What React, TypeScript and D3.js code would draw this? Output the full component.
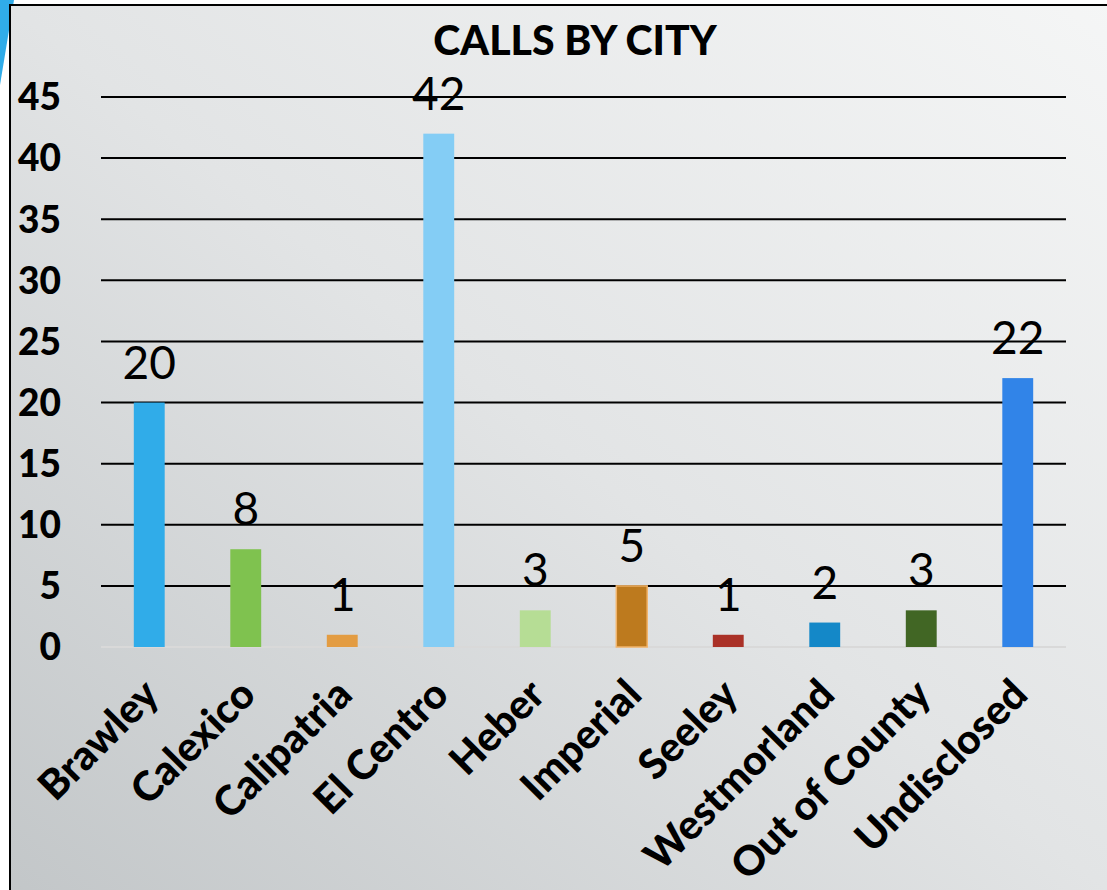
import React from 'react';
import * as d3 from 'd3';

const cities = ['Brawley', 'Calexico', 'Calipatria', 'El Centro', 'Heber', 'Imperial', 'Seeley', 'Westmorland', 'Out of County', 'Undisclosed'];
const calls = [20, 8, 1, 42, 3, 5, 1, 2, 3, 22];
const barColors = ['#30ace9', '#7fc24f', '#e39c42', '#84cdf5', '#b6dd95', '#bd7a1e', '#aa3127', '#1488c8', '#416624', '#3184e8'];
const yTicks = [0, 5, 10, 15, 20, 25, 30, 35, 40, 45];

const W = 1107, H = 890;
const font = 'Lato, "Open Sans", sans-serif';

export default function App() {
    // plot area
    const left = 101, right = 1066, top = 97, bottom = 647;

    const x = d3.scaleBand<string>().domain(cities).range([left, right]).paddingInner(0.68).paddingOuter(0.34);
    const y = d3.scaleLinear().domain([0, 45]).range([bottom, top]);

    return (
        <svg width={W} height={H} style={{ position: 'absolute', left: 0, top: 0 }}>
            <defs>
                <linearGradient id="bg" x1="1" y1="0" x2="0" y2="1">
                    <stop offset="0" stopColor="#f5f6f6" />
                    <stop offset="0.5" stopColor="#e2e4e5" />
                    <stop offset="1" stopColor="#c2c6c8" />
                </linearGradient>
            </defs>
            <rect width={W} height={H} fill="#ffffff" />
            <polygon points="0,0 14,0 0,85" fill="#30ace9" />
            <rect x={10} y={5} width={W + 10} height={H + 10} fill="url(#bg)" stroke="#000" strokeWidth={2} />

            <text x={575} y={55} textAnchor="middle" fontFamily={font} fontWeight="900" fontSize={41} fill="#000">CALLS BY CITY</text>

            {yTicks.map(t => (
                <g key={t}>
                    {t > 0 && <line x1={left} x2={right} y1={y(t)} y2={y(t)} stroke="#000" strokeWidth={2} />}
                    <text x={61} y={y(t)} dy="0.36em" textAnchor="end" fontFamily={font} fontWeight="900" fontSize={37} fill="#000">{t}</text>
                </g>
            ))}
            <line x1={left} x2={right} y1={y(0)} y2={y(0)} stroke="#d9d9d9" strokeWidth={2} />

            {cities.map((c, i) => {
                const cx = (x(c) as number) + x.bandwidth() / 2;
                return (
                    <g key={c}>
                        <rect x={x(c)} y={y(calls[i])} width={x.bandwidth()} height={bottom - y(calls[i])}
                            fill={barColors[i]} stroke={c === 'Imperial' ? '#f2b46a' : 'none'} strokeWidth={1.5} />
                        <text x={cx} y={y(calls[i]) - 24} textAnchor="middle" fontFamily={font} fontSize={46} fill="#000">{calls[i]}</text>
                        <text transform={`translate(${cx + 12},${697}) rotate(-45)`} textAnchor="end"
                            fontFamily={font} fontWeight="900" fontSize={41} fill="#000">{c}</text>
                    </g>
                );
            })}
        </svg>
    );
}
